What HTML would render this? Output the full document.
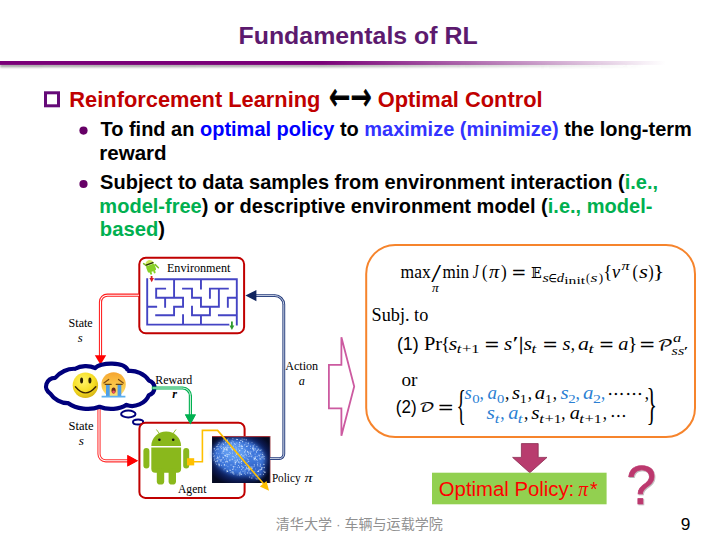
<!DOCTYPE html>
<html lang="zh">
<head>
<meta charset="utf-8">
<title>Fundamentals of RL</title>
<style>
html,body{margin:0;padding:0;background:#fff;}
body{width:716px;height:537px;overflow:hidden;font-family:"Liberation Sans","Noto Sans CJK SC",sans-serif;}
svg{display:block;position:absolute;left:0;top:0;}
text{white-space:pre;}
</style>
</head>
<body>
<svg width="716" height="537" viewBox="0 0 716 537">
<defs>
<linearGradient id="gl" x1="0" y1="0" x2="716" y2="0" gradientUnits="userSpaceOnUse">
<stop offset="0" stop-color="#7a0078"/><stop offset="0.45" stop-color="#7a0078"/><stop offset="0.93" stop-color="#7a0078" stop-opacity="0"/>
</linearGradient>
<linearGradient id="gs" x1="0" y1="0" x2="716" y2="0" gradientUnits="userSpaceOnUse">
<stop offset="0" stop-color="#555" stop-opacity=".55"/><stop offset="0.45" stop-color="#555" stop-opacity=".5"/><stop offset="0.9" stop-color="#555" stop-opacity="0"/>
</linearGradient>
<filter id="bl" x="-5%" y="-200%" width="110%" height="500%"><feGaussianBlur stdDeviation="0.9"/></filter>
<radialGradient id="sm" cx="0.42" cy="0.35" r="0.7"><stop offset="0" stop-color="#fff468"/><stop offset="0.6" stop-color="#f6de24"/><stop offset="1" stop-color="#d2ae12"/></radialGradient>
<linearGradient id="cr" x1="0" y1="0" x2="0" y2="1"><stop offset="0" stop-color="#f6a531"/><stop offset="0.55" stop-color="#fbc94a"/><stop offset="1" stop-color="#fde27a"/></linearGradient>
<radialGradient id="br" cx="0.48" cy="0.47" r="0.6"><stop offset="0" stop-color="#2a5cc0"/><stop offset="0.55" stop-color="#173a90"/><stop offset="0.85" stop-color="#0a1648"/><stop offset="1" stop-color="#050a22"/></radialGradient>
<filter id="bb" x="-20%" y="-20%" width="140%" height="140%"><feGaussianBlur stdDeviation="2.2"/></filter>
<filter id="qs" x="-20%" y="-20%" width="150%" height="150%"><feDropShadow dx="0.8" dy="1" stdDeviation="0.7" flood-color="#000" flood-opacity="0.3"/></filter>
</defs>

<!-- title rule -->
<rect x="0" y="64" width="716" height="3.2" fill="url(#gs)" filter="url(#bl)"/>
<rect x="0" y="61" width="716" height="3.9" fill="url(#gl)"/>

<!-- heading bullet square -->
<rect x="45.5" y="92.8" width="13" height="13" fill="none" stroke="#650a78" stroke-width="3"/>

<!-- ===== diagram ===== -->
<!-- environment box -->
<rect x="139.3" y="257.7" width="104.8" height="75.6" rx="6.5" ry="6.5" fill="#fff" stroke="#c00000" stroke-width="2"/>
<path d="M155.4 279.2L236.8 279.2M147.2 279.2L147.2 324.6M236.8 279.2L236.8 324.6M147.2 324.6L228.34 324.6M147.2 306.8L156.16 306.8M156.16 288.6L156.16 297.8M156.16 288.6L165.12 288.6M156.16 297.8L183.04 297.8M174.08 279.2L174.08 297.8M165.12 297.8L165.12 306.8M183.04 297.8L183.04 306.8M174.08 306.8L183.04 306.8M174.08 306.8L174.08 315.2M156.16 315.2L174.08 315.2M183.04 315.2L183.04 324.6M183.04 288.6L192.0 288.6M192.0 288.6L192.0 297.8M192.0 297.8L200.96 297.8M200.96 297.8L200.96 306.8M200.96 306.8L218.88 306.8M218.88 288.6L218.88 306.8M209.92 288.6L227.84 288.6M209.92 288.6L209.92 297.8M200.96 279.2L200.96 288.6M192.0 306.8L192.0 315.2M192.0 315.2L209.92 315.2M209.92 306.8L209.92 315.2M200.96 315.2L200.96 324.6M227.84 297.8L227.84 306.8M227.84 297.8L236.8 297.8M218.88 315.2L236.8 315.2" fill="none" stroke="#4444c4" stroke-width="1.9" stroke-linecap="square"/>
<!-- start / exit arrows of maze -->
<path d="M151.6 276v3" stroke="#d81c24" stroke-width="1.8"/><path d="M149.4 278h4.6l-2.3 4.2z" fill="#d81c24"/>
<path d="M231.9 321.4v5" stroke="#2e9a2e" stroke-width="1.8"/><path d="M229.5 325.6h4.8l-2.4 4.4z" fill="#2e9a2e"/>
<!-- small android with glasses -->
<path d="M147.4 266.4L143.6 263.6M155.2 264.6L158.4 267.8" stroke="#7cc022" stroke-width="1.5" stroke-linecap="round"/>
<g transform="translate(150.9 267.6) rotate(-20) scale(1.3)">
<path d="M-3.4 -2.4a3.4 3.6 0 0 1 6.8 0z" fill="#cfe65a"/>
<rect x="-3.4" y="-2.2" width="6.8" height="5.4" rx="1.2" fill="#86d026"/>
<rect x="-2.2" y="2.6" width="1.5" height="2.6" rx="0.7" fill="#86d026"/>
<rect x="0.7" y="2.6" width="1.5" height="2.6" rx="0.7" fill="#86d026"/>
<rect x="-3.3" y="-3.6" width="6.6" height="1.1" rx="0.5" fill="#26320c"/>
</g>

<!-- state arrow: env -> cloud (double red) -->
<path d="M139 295.2H107.3a6.8 6.8 0 0 0 -6.8 6.8V356" fill="none" stroke="#ff1e1e" stroke-width="3.2"/>
<path d="M139 295.2H107.3a6.8 6.8 0 0 0 -6.8 6.8V356" fill="none" stroke="#fff" stroke-width="1.1"/>
<path d="M94.8 355.2h11.4l-5.7 9.6z" fill="#ff0000"/>

<!-- cloud -->
<path d="M99 407V454a6.8 6.8 0 0 0 6.8 6.8H128" fill="none" stroke="#ff3030" stroke-width="3.2"/>
<path d="M99 407V454a6.8 6.8 0 0 0 6.8 6.8H128" fill="none" stroke="#fff" stroke-width="1.1"/>
<path d="M127.4 455.1l10.6 5.7l-10.6 5.6z" fill="#ff0000"/>
<path id="cloud" d="M50.1 393.4A9.6 8.6 0 0 1 55.3 377.8A19 14 -25 0 1 75.2 368.8A16 10 0 0 1 95.2 368C99 362.4 125.5 361 128.1 371A17 12 25 0 1 148.8 380.4A8.2 7.8 0 0 1 148.8 395.2A15 11.5 -25 0 1 126.5 404.8A20 11.5 0 0 1 99.5 406.8A22 12 5 0 1 68.3 403.2A16 11 30 0 1 50.1 393.4Z" fill="#fff" stroke="#00007c" stroke-width="4.2" stroke-linejoin="round"/>
<ellipse cx="128.3" cy="414" rx="7.2" ry="3.5" fill="#fff" stroke="#00007c" stroke-width="2"/>
<ellipse cx="138.1" cy="422" rx="5.1" ry="2.5" fill="#fff" stroke="#00007c" stroke-width="2"/>

<!-- emojis -->
<rect x="100.2" y="371.4" width="27" height="27" fill="#fff"/>
<circle cx="85.4" cy="385.2" r="12.7" fill="url(#sm)"/>
<ellipse cx="81.6" cy="380.4" rx="1.5" ry="3" fill="#2a2004"/>
<ellipse cx="89.9" cy="380.4" rx="1.5" ry="3" fill="#2a2004"/>
<path d="M75.4 386.8Q85.4 399 95.8 386.8" fill="none" stroke="#3a2404" stroke-width="1.4" stroke-linecap="round"/>
<circle cx="113.6" cy="384.5" r="12.2" fill="url(#cr)"/>
<path d="M103.9 383l4.8 -3.6M123.3 383l-4.8 -3.6" fill="none" stroke="#7a4a12" stroke-width="1.2" stroke-linecap="round"/>
<path d="M105.2 384.4h6M116.2 384.4h6" fill="none" stroke="#6a4410" stroke-width="1.1" stroke-linecap="round"/>
<path d="M106 385h3.7v11H106zM117.6 385h3.7v11h-3.7z" fill="#4e9ee6"/>
<path d="M101.6 395.7h23.8v1.9h-23.8z" fill="#5cb0f0"/>
<ellipse cx="113.6" cy="390.6" rx="2.1" ry="3" fill="#6a2a1a"/>
<ellipse cx="113.6" cy="392" rx="1.4" ry="1.4" fill="#f0506a"/>

<!-- reward arrow (double green) -->
<path d="M151.8 388H182.6a7.8 7.8 0 0 1 7.8 7.8V415" fill="none" stroke="#00b050" stroke-width="3.2"/>
<path d="M152.6 388H182.6a7.8 7.8 0 0 1 7.8 7.8V415" fill="none" stroke="#d8f5e4" stroke-width="1"/>
<path d="M184.9 414.4h11l-5.5 10.2z" fill="#00b050"/>

<!-- agent box -->
<rect x="139.4" y="422.7" width="105.2" height="75.2" rx="6" ry="6" fill="#fff" stroke="#c00000" stroke-width="2"/>
<path d="M184.9 414.4h11l-5.5 10.2z" fill="#00b050"/>
<path d="M127.4 455.1l10.6 5.7l-10.6 5.6z" fill="#ff0000"/>
<!-- android -->
<g fill="#8ab81c">
<path d="M151.3 446a14.9 14.4 0 0 1 29.8 0z"/>
<path d="M151.3 447.6h29.8v21.2a4 4 0 0 1 -4 4h-21.8a4 4 0 0 1 -4 -4z"/>
<rect x="143.4" y="448" width="6" height="20.4" rx="3"/>
<rect x="183.2" y="448" width="6" height="20.4" rx="3"/>
<rect x="156.8" y="468" width="7.4" height="16.6" rx="3.4"/>
<rect x="168.6" y="468" width="7.4" height="16.6" rx="3.4"/>
<path d="M156.6 429.8l3.4 4.6M175.8 429.8l-3.4 4.6" stroke="#8ab81c" stroke-width="0.9" stroke-linecap="round"/>
</g>
<circle cx="159.4" cy="439.8" r="1.3" fill="#111"/><circle cx="173.2" cy="439.8" r="1.3" fill="#111"/>

<!-- brain picture -->
<rect x="212.2" y="436.3" width="58" height="46.7" fill="#050a22"/>
<rect x="212.2" y="436.3" width="58" height="46.7" fill="url(#br)"/>
<g filter="url(#bb)">
<ellipse cx="239" cy="457" rx="26.5" ry="17.5" transform="rotate(12 239 457)" fill="#3f78dc"/>
<ellipse cx="255.5" cy="470.5" rx="9" ry="8" fill="#3468cc"/>
<ellipse cx="234" cy="452" rx="13" ry="9" transform="rotate(14 234 452)" fill="#5f9af0"/>
</g>
<path d="M212.2 436.6h58" stroke="#d23a3a" stroke-width="0.8" fill="none"/><path d="M270.3 436.3v46.7" stroke="#f0a0a0" stroke-width="0.7" fill="none"/>
<path d="M231.5 443.9h0M237.2 475.0h0M229.5 443.6h0M245.5 462.8h0M218.9 463.3h0M234.2 462.2h0M233.6 448.4h0M254.6 450.2h0M221.7 459.5h0M246.1 458.0h0M214.3 458.2h0M247.8 459.7h0M223.0 447.7h0M223.4 450.0h0M235.4 455.4h0M240.4 455.4h0M216.8 446.6h0M219.3 464.6h0M218.8 453.7h0M247.3 458.8h0M239.6 459.3h0M255.2 459.0h0M233.6 468.7h0M256.2 450.7h0M231.8 447.3h0M258.9 474.6h0M224.4 459.7h0M225.6 447.4h0M254.1 458.3h0M254.3 444.8h0M258.6 470.4h0M227.4 450.5h0M257.3 465.0h0M222.8 458.8h0M243.3 459.2h0M218.6 457.8h0M227.8 462.7h0M219.9 457.3h0M251.3 456.7h0M251.2 473.1h0M233.9 448.6h0M237.0 453.4h0M244.6 457.3h0M242.2 440.0h0M228.1 438.8h0M245.5 469.2h0M248.8 461.4h0M229.5 460.0h0M214.1 460.3h0M225.3 447.6h0M260.4 469.5h0M236.1 453.0h0M247.1 468.9h0M230.6 453.4h0M254.3 466.6h0M245.4 474.4h0M260.1 463.9h0M234.5 457.8h0M248.8 465.8h0M226.4 471.8h0M216.5 449.4h0M251.9 455.6h0M236.7 454.3h0M255.8 475.6h0M261.7 449.9h0M260.6 450.1h0M244.3 470.1h0M244.8 455.1h0M221.0 445.9h0M225.0 449.4h0M220.2 460.2h0M227.2 442.0h0M253.2 451.1h0M255.1 460.2h0M241.3 446.2h0M247.0 456.1h0M217.6 456.3h0M259.9 456.9h0M220.6 459.8h0M258.7 471.0h0M217.5 446.1h0M227.1 440.0h0M240.5 462.1h0M261.3 467.6h0M224.4 448.4h0M218.8 458.8h0M215.3 450.5h0M217.3 460.6h0M238.6 449.0h0M223.6 451.4h0M263.4 456.0h0M264.4 456.5h0M239.3 444.5h0M222.8 453.0h0M219.2 459.6h0M252.2 478.0h0M248.4 465.3h0M221.9 453.5h0M227.1 470.3h0M215.3 462.9h0M250.0 451.2h0M241.7 445.2h0M248.3 459.5h0M242.1 438.9h0M257.3 460.5h0M255.9 478.2h0M248.0 468.9h0M226.5 454.1h0M251.7 478.2h0M242.7 468.7h0M226.1 465.3h0M254.8 471.4h0M236.8 453.7h0M220.5 447.5h0M253.3 457.7h0M235.9 449.2h0M254.8 448.4h0M223.6 444.3h0M227.9 466.6h0M217.9 460.3h0M227.8 447.9h0M239.8 475.6h0M261.9 457.1h0M245.5 451.2h0M249.1 469.1h0M219.1 446.5h0M264.9 471.7h0M240.2 443.1h0M236.5 457.1h0M245.3 469.9h0M241.0 473.7h0M245.9 444.3h0M241.6 454.4h0M221.8 444.2h0M222.2 452.1h0M250.5 446.0h0M254.8 457.0h0M261.7 457.1h0M255.7 456.4h0M261.6 468.3h0M238.9 451.4h0M235.8 469.8h0M242.5 467.4h0M227.3 447.0h0M254.6 465.2h0M227.4 454.6h0M235.3 446.8h0M249.6 470.2h0M240.3 456.7h0M260.4 466.1h0M250.5 446.6h0M250.4 448.5h0M223.6 457.8h0M257.9 475.6h0M241.2 446.8h0M255.3 457.2h0M244.6 449.2h0M216.3 458.5h0M252.9 448.3h0M223.3 453.6h0M240.6 471.8h0M232.5 448.6h0M262.8 452.9h0M224.0 469.8h0M246.4 466.2h0M259.9 458.9h0M248.6 445.0h0M262.5 456.4h0M245.3 463.6h0M241.4 461.0h0M235.1 464.2h0M240.1 456.0h0M217.7 458.7h0M248.7 456.6h0M252.0 442.6h0M226.8 470.7h0M255.6 469.0h0M251.2 477.9h0M230.7 470.6h0M254.5 458.6h0M245.3 450.4h0M231.9 464.9h0M259.0 450.0h0M231.3 449.3h0" stroke="#dcecff" stroke-width="0.6" stroke-linecap="round" opacity="0.85" fill="none"/>
<path d="M217.1 461.7h0M225.2 441.0h0M245.2 465.5h0M251.8 456.7h0M230.1 459.8h0M219.7 456.2h0M244.8 473.3h0M232.4 453.1h0M253.0 466.8h0M229.2 454.7h0M227.1 455.0h0M228.8 443.3h0M236.7 453.5h0M217.0 446.6h0M221.5 448.6h0M252.7 449.0h0M260.9 459.1h0M257.6 471.5h0M263.7 457.0h0M236.9 443.0h0M256.3 479.0h0M247.5 446.2h0M238.8 461.5h0M237.6 460.7h0M234.9 460.8h0M228.4 443.0h0M261.4 468.1h0M262.2 457.9h0M227.9 445.3h0M242.3 448.3h0M237.6 459.8h0M237.6 439.5h0M262.6 467.8h0M239.2 444.2h0M213.2 453.8h0M232.1 440.9h0M246.4 455.1h0M257.7 464.4h0M254.1 459.7h0M243.0 471.3h0M227.4 440.4h0M241.2 454.6h0M224.3 464.6h0M227.5 471.2h0M248.4 443.1h0M252.5 468.1h0M253.4 450.1h0M239.2 474.7h0M255.6 449.0h0M253.1 447.6h0M235.5 444.3h0M227.4 440.0h0M233.6 456.7h0M231.0 472.6h0M263.4 474.4h0M248.1 443.4h0M244.4 444.9h0M232.6 450.7h0M236.2 448.0h0M223.0 462.6h0M241.4 463.4h0M234.9 466.7h0M253.0 475.9h0M248.7 461.3h0M226.0 456.5h0M232.3 456.3h0M226.2 447.2h0M223.7 447.3h0M223.5 457.7h0M250.9 454.4h0M245.0 471.9h0M214.7 455.9h0M226.3 458.9h0M227.3 456.8h0M247.6 452.1h0M241.4 469.6h0M222.9 443.1h0M257.4 450.5h0M245.3 454.2h0M223.7 440.0h0M232.9 438.7h0M221.1 446.4h0M259.7 455.8h0M214.8 459.8h0M218.2 444.5h0M236.4 450.0h0M233.7 446.1h0M230.9 465.0h0M251.1 451.9h0M247.2 462.3h0M237.3 467.3h0M238.5 465.5h0M260.7 474.3h0M219.1 442.9h0M216.7 453.1h0M221.2 460.1h0M223.4 444.4h0M227.4 461.6h0M255.1 454.1h0M233.5 472.2h0M229.9 460.7h0M246.4 467.5h0M221.5 465.3h0M233.2 441.9h0M243.4 456.0h0M249.4 477.1h0M215.5 461.5h0M223.0 451.2h0M255.5 458.4h0M232.1 471.5h0M216.7 464.2h0M243.4 467.6h0M260.0 466.1h0M229.8 452.5h0M214.2 448.8h0M245.7 450.2h0M257.9 465.9h0M263.8 471.3h0M249.8 453.0h0M238.7 462.5h0M222.7 457.2h0M246.0 442.8h0M254.2 464.7h0M241.5 466.1h0M214.3 448.8h0M227.3 456.5h0M239.0 446.4h0M242.2 466.4h0M242.7 455.9h0M225.0 468.5h0M213.8 456.3h0M228.1 447.3h0M233.1 466.4h0M250.0 472.9h0M228.2 454.3h0M240.4 474.1h0M233.4 467.1h0M250.6 453.7h0M239.7 462.9h0M260.9 454.2h0M248.6 452.6h0M256.9 446.7h0M260.1 450.5h0M236.0 460.2h0M250.3 473.4h0M235.7 462.5h0M244.1 439.3h0M257.8 462.9h0M257.1 456.4h0M225.4 442.6h0M248.8 469.6h0M233.7 466.7h0M240.2 472.8h0M260.4 464.7h0M227.0 454.8h0" stroke="#dcecff" stroke-width="0.9" stroke-linecap="round" opacity="0.85" fill="none"/>
<path d="M246.2 439.8h0M252.8 448.2h0M217.6 457.7h0M236.9 454.0h0M231.2 442.8h0M255.2 458.0h0M242.4 446.4h0M225.7 461.9h0M239.9 445.9h0M232.3 459.2h0M239.5 467.2h0M250.5 453.1h0M256.5 452.0h0M264.2 467.5h0M241.6 461.5h0M244.7 452.0h0M241.9 448.4h0M236.1 461.7h0M218.0 449.0h0M241.7 446.2h0M230.3 447.7h0M260.0 469.9h0M248.8 470.8h0M220.9 461.1h0M258.5 471.4h0M239.6 442.5h0M227.2 449.2h0M241.5 474.3h0M226.6 448.9h0M262.6 454.6h0M264.1 458.8h0M240.9 440.4h0M217.0 461.1h0M223.9 449.0h0M226.8 461.2h0M219.2 465.7h0M253.2 446.0h0M227.6 471.4h0M232.3 449.5h0M230.0 470.2h0M239.3 473.1h0M248.4 468.0h0M226.4 449.9h0M219.0 464.4h0M235.5 462.3h0M236.8 439.4h0M259.0 455.2h0M248.5 454.1h0M225.4 455.4h0M233.8 473.9h0M224.9 449.1h0M258.2 449.2h0M246.6 446.4h0M263.9 464.4h0M224.4 465.0h0M249.9 456.1h0M254.3 459.0h0M253.6 449.2h0M251.7 468.5h0M231.7 448.0h0M235.3 463.9h0M264.9 472.4h0M232.8 469.4h0M256.7 459.6h0M224.7 449.1h0M246.9 468.7h0M249.6 469.0h0M223.9 450.9h0M261.6 469.3h0M251.1 467.0h0M242.6 441.7h0M248.8 468.0h0M239.7 450.5h0M224.9 455.5h0M247.7 472.9h0M260.1 458.8h0M232.5 472.8h0M258.0 478.9h0M234.4 443.8h0M247.7 451.5h0M248.4 466.9h0" stroke="#dcecff" stroke-width="1.3" stroke-linecap="round" opacity="0.8" fill="none"/>

<!-- yellow policy line -->
<rect x="187" y="458.2" width="7.2" height="7.2" fill="#ffc000"/>
<path d="M194 461.7H202.4V430.4H217.6L264 484.2" fill="none" stroke="#ffc000" stroke-width="1.6" stroke-linejoin="miter"/>
<path d="M269 490.7L259.8 486.5L266.5 480.9z" fill="#ffc000"/>

<!-- action arrow (double navy) -->
<path d="M270 458.6H279.3a4.5 4.5 0 0 0 4.5 -4.5V304.6a9 9 0 0 0 -9 -9H256" fill="none" stroke="#22397a" stroke-width="2.8"/>
<path d="M270 458.6H279.3a4.5 4.5 0 0 0 4.5 -4.5V304.6a9 9 0 0 0 -9 -9H256" fill="none" stroke="#dfe6f4" stroke-width="0.9"/>
<path d="M245.4 295.6l11 -5.6v11.2z" fill="#10245e"/>

<!-- pink block arrow -->
<path d="M328.9 364.8H341.4V337.3L354.2 386.6L341.4 435.8V408.3H328.9Z" fill="none" stroke="#cc5aa0" stroke-width="1.8" stroke-linejoin="miter"/>

<!-- orange box -->
<rect x="366.2" y="244.9" width="328.8" height="192.1" rx="29" ry="29" fill="none" stroke="#f6842c" stroke-width="2"/>

<!-- down arrow -->
<path d="M521.4 443.6h16.8v13.8h8.8l-17.2 15.4l-17.2 -15.4h8.8z" fill="#b83c6e" stroke="#8a2c52" stroke-width="0.8"/>
<!-- green label -->
<rect x="432" y="472.7" width="174.6" height="31.6" fill="#92d050"/>

<text x="238.54" y="44.2" font-family="'Liberation Sans',sans-serif" font-size="24.6" font-weight="bold" fill="#5c1a6e" textLength="239.13" lengthAdjust="spacingAndGlyphs">Fundamentals of RL</text>
<text x="69.34" y="106.7" font-family="'Liberation Sans',sans-serif" font-size="21.6" font-weight="bold" fill="#c00000" textLength="251.12" lengthAdjust="spacingAndGlyphs">Reinforcement Learning</text>
<text x="377.71" y="106.7" font-family="'Liberation Sans',sans-serif" font-size="21.6" font-weight="bold" fill="#c00000" textLength="164.84" lengthAdjust="spacingAndGlyphs">Optimal Control</text>
<text stroke="#000" stroke-width="0.7" transform="translate(329.07 110.42) scale(1.053 1.598)" font-family="'DejaVu Sans',sans-serif" font-size="24" fill="#000">←</text>
<text stroke="#000" stroke-width="0.7" transform="translate(350.77 110.42) scale(1.042 1.598)" font-family="'DejaVu Sans',sans-serif" font-size="24" fill="#000">→</text>
<text x="100.48" y="135.6" font-family="'Liberation Sans',sans-serif" font-size="19.93" font-weight="bold" textLength="591.36" lengthAdjust="spacingAndGlyphs" xml:space="preserve"><tspan fill="#000">To find an </tspan><tspan fill="#0000ff">optimal policy</tspan><tspan fill="#000"> to </tspan><tspan fill="#3333ff">maximize (minimize)</tspan><tspan fill="#000"> the long-term</tspan></text>
<text x="99.35" y="159.7" font-family="'Liberation Sans',sans-serif" font-size="19.93" font-weight="bold" textLength="67.31" lengthAdjust="spacingAndGlyphs" xml:space="preserve"><tspan fill="#000">reward</tspan></text>
<text x="100.12" y="189.2" font-family="'Liberation Sans',sans-serif" font-size="19.93" font-weight="bold" textLength="557.91" lengthAdjust="spacingAndGlyphs" xml:space="preserve"><tspan fill="#000">Subject to data samples from environment interaction (</tspan><tspan fill="#00b050">i.e.,</tspan></text>
<text x="99.38" y="213.0" font-family="'Liberation Sans',sans-serif" font-size="19.93" font-weight="bold" textLength="553.02" lengthAdjust="spacingAndGlyphs" xml:space="preserve"><tspan fill="#00b050">model-free</tspan><tspan fill="#000">) or descriptive environment model (</tspan><tspan fill="#00b050">i.e., model-</tspan></text>
<text x="99.87" y="236.2" font-family="'Liberation Sans',sans-serif" font-size="19.93" font-weight="bold" textLength="65.14" lengthAdjust="spacingAndGlyphs" xml:space="preserve"><tspan fill="#00b050">based</tspan><tspan fill="#000">)</tspan></text>
<circle cx="83.5" cy="130.6" r="4.1" fill="#660066"/>
<circle cx="83.5" cy="184.0" r="4.1" fill="#660066"/>
<text x="166.95" y="272.0" font-family="'Liberation Serif',serif" font-size="12.2" fill="#000" textLength="63.42" lengthAdjust="spacingAndGlyphs">Environment</text>
<text x="68.59" y="326.7" font-family="'Liberation Serif',serif" font-size="12.2" fill="#000" textLength="24.13" lengthAdjust="spacingAndGlyphs">State</text>
<text x="77.85" y="341.6" font-family="'Liberation Serif',serif" font-size="12.2" font-style="italic" fill="#000" textLength="4.94" lengthAdjust="spacingAndGlyphs">s</text>
<text x="68.56" y="429.8" font-family="'Liberation Serif',serif" font-size="12.2" fill="#000" textLength="25.07" lengthAdjust="spacingAndGlyphs">State</text>
<text x="78.84" y="444.6" font-family="'Liberation Serif',serif" font-size="12.2" font-style="italic" fill="#000" textLength="5.16" lengthAdjust="spacingAndGlyphs">s</text>
<text x="155.26" y="383.7" font-family="'Liberation Serif',serif" font-size="12.2" fill="#000" textLength="37.09" lengthAdjust="spacingAndGlyphs">Reward</text>
<text x="172.15" y="397.6" font-family="'Liberation Serif',serif" font-size="12.2" font-style="italic" font-weight="bold" fill="#000">r</text>
<text x="285.18" y="369.8" font-family="'Liberation Serif',serif" font-size="12.2" fill="#000" textLength="33.00" lengthAdjust="spacingAndGlyphs">Action</text>
<text x="298.84" y="384.7" font-family="'Liberation Serif',serif" font-size="12.2" font-style="italic" fill="#000">a</text>
<text x="177.99" y="492.9" font-family="'Liberation Serif',serif" font-size="12.2" fill="#000" textLength="28.38" lengthAdjust="spacingAndGlyphs">Agent</text>
<text x="271.88" y="481.5" font-family="'Liberation Serif',serif" font-size="12.2" fill="#000" textLength="28.67" lengthAdjust="spacingAndGlyphs">Policy</text>
<text x="304.41" y="481.5" font-family="'Liberation Serif',serif" font-size="12.2" font-style="italic" fill="#000" textLength="8.02" lengthAdjust="spacingAndGlyphs">π</text>
<text x="400.53" y="277.6" font-family="'Liberation Serif',serif" font-size="18.2" fill="#000" textLength="30.18" lengthAdjust="spacingAndGlyphs">max</text>
<text transform="translate(431.20 282.46) scale(1.938 1.339)" font-family="'Liberation Serif',serif" font-size="18.2" fill="#000">/</text>
<text x="442.44" y="277.6" font-family="'Liberation Serif',serif" font-size="18.2" fill="#000" textLength="26.52" lengthAdjust="spacingAndGlyphs">min</text>
<text x="472.70" y="277.6" font-family="'Liberation Serif',serif" font-size="18.2" font-style="italic" fill="#000" textLength="5.79" lengthAdjust="spacingAndGlyphs">J</text>
<text x="482.08" y="277.6" font-family="'Liberation Serif',serif" font-size="18.2" fill="#000" textLength="5.45" lengthAdjust="spacingAndGlyphs">(</text>
<text x="489.09" y="277.6" font-family="'Liberation Serif',serif" font-size="18.2" font-style="italic" fill="#000" textLength="10.24" lengthAdjust="spacingAndGlyphs">π</text>
<text x="501.05" y="277.6" font-family="'Liberation Serif',serif" font-size="18.2" fill="#000" textLength="5.70" lengthAdjust="spacingAndGlyphs">)</text>
<text x="512.49" y="278.90000000000003" font-family="'Liberation Serif',serif" font-size="18.2" fill="#000" textLength="12.60" lengthAdjust="spacingAndGlyphs" stroke="#000" stroke-width="0.7">=</text>
<text stroke="#000" stroke-width="0.1" transform="translate(530.80 277.60) scale(0.753 0.837)" font-family="'DejaVu Math TeX Gyre','DejaVu Serif','DejaVu Sans',serif" font-size="18.2" fill="#000">𝔼</text>
<text x="542.40" y="282.3" font-family="'Liberation Serif',serif" font-size="13.2" font-style="italic" fill="#000" textLength="6.40" lengthAdjust="spacingAndGlyphs">s</text>
<text x="548.47" y="282.3" font-family="'DejaVu Math TeX Gyre','DejaVu Serif','DejaVu Sans',serif" font-size="13.2" fill="#000" textLength="8.36" lengthAdjust="spacingAndGlyphs">∈</text>
<text x="556.86" y="282.3" font-family="'Liberation Serif',serif" font-size="13.2" font-style="italic" fill="#000" textLength="7.31" lengthAdjust="spacingAndGlyphs">d</text>
<text x="564.27" y="284.4" font-family="'Liberation Serif',serif" font-size="11" fill="#000" textLength="20.82" lengthAdjust="spacingAndGlyphs">init</text>
<text x="586.09" y="282.3" font-family="'Liberation Serif',serif" font-size="13.2" fill="#000" textLength="3.89" lengthAdjust="spacingAndGlyphs">(</text>
<text x="590.58" y="282.3" font-family="'Liberation Serif',serif" font-size="13.2" font-style="italic" fill="#000" textLength="7.07" lengthAdjust="spacingAndGlyphs">s</text>
<text x="598.77" y="282.3" font-family="'Liberation Serif',serif" font-size="13.2" fill="#000" textLength="4.41" lengthAdjust="spacingAndGlyphs">)</text>
<text x="603.20" y="277.6" font-family="'Liberation Serif',serif" font-size="18.2" fill="#000" textLength="9.01" lengthAdjust="spacingAndGlyphs">{</text>
<text x="611.95" y="277.6" font-family="'Liberation Serif',serif" font-size="18.2" font-style="italic" fill="#000" textLength="8.15" lengthAdjust="spacingAndGlyphs">v</text>
<text x="621.51" y="270.2" font-family="'Liberation Serif',serif" font-size="13.2" font-style="italic" fill="#000" textLength="8.12" lengthAdjust="spacingAndGlyphs">π</text>
<text x="632.38" y="277.6" font-family="'Liberation Serif',serif" font-size="18.2" fill="#000" textLength="5.45" lengthAdjust="spacingAndGlyphs">(</text>
<text x="639.12" y="277.6" font-family="'Liberation Serif',serif" font-size="18.2" font-style="italic" fill="#000" textLength="8.98" lengthAdjust="spacingAndGlyphs">s</text>
<text x="648.27" y="277.6" font-family="'Liberation Serif',serif" font-size="18.2" fill="#000" textLength="5.45" lengthAdjust="spacingAndGlyphs">)</text>
<text x="652.78" y="277.6" font-family="'Liberation Serif',serif" font-size="18.2" fill="#000" textLength="11.74" lengthAdjust="spacingAndGlyphs">}</text>
<text x="431.93" y="292.3" font-family="'Liberation Serif',serif" font-size="13.2" font-style="italic" fill="#000" textLength="6.76" lengthAdjust="spacingAndGlyphs">π</text>
<text x="371.58" y="321.4" font-family="'Liberation Serif',serif" font-size="17.9" fill="#000" textLength="56.71" lengthAdjust="spacingAndGlyphs">Subj. to</text>
<text x="396.89" y="349.8" font-family="'Liberation Sans',sans-serif" font-size="18" fill="#000" textLength="21.92" lengthAdjust="spacingAndGlyphs">(1)</text>
<text x="424.01" y="349.8" font-family="'Liberation Serif',serif" font-size="18.2" fill="#000" textLength="18.17" lengthAdjust="spacingAndGlyphs">Pr</text>
<text x="440.90" y="349.8" font-family="'Liberation Serif',serif" font-size="18.2" fill="#000" textLength="9.01" lengthAdjust="spacingAndGlyphs">{</text>
<text x="448.73" y="349.8" font-family="'Liberation Serif',serif" font-size="18.2" font-style="italic" fill="#000" textLength="8.53" lengthAdjust="spacingAndGlyphs">s</text>
<text x="456.77" y="353.4" font-family="'Liberation Serif',serif" font-size="13.2" font-style="italic" fill="#000" textLength="4.60" lengthAdjust="spacingAndGlyphs">t</text>
<text x="462.07" y="353.4" font-family="'Liberation Serif',serif" font-size="13.2" fill="#000" textLength="9.45" lengthAdjust="spacingAndGlyphs">+</text>
<text x="471.35" y="353.4" font-family="'Liberation Serif',serif" font-size="13.2" fill="#000" textLength="8.24" lengthAdjust="spacingAndGlyphs">1</text>
<text x="485.23" y="351.1" font-family="'Liberation Serif',serif" font-size="18.2" fill="#000" textLength="13.21" lengthAdjust="spacingAndGlyphs" stroke="#000" stroke-width="0.7">=</text>
<text x="503.94" y="349.8" font-family="'Liberation Serif',serif" font-size="18.2" font-style="italic" fill="#000" textLength="8.19" lengthAdjust="spacingAndGlyphs">s</text>
<text x="512.60" y="349.8" font-family="'Liberation Serif',serif" font-size="18.2" fill="#000" textLength="6.19" lengthAdjust="spacingAndGlyphs">′</text>
<text x="519.23" y="349.8" font-family="'Liberation Serif',serif" font-size="18.2" fill="#000" stroke="#000" stroke-width="0.5">|</text>
<text x="523.74" y="349.8" font-family="'Liberation Serif',serif" font-size="18.2" font-style="italic" fill="#000" textLength="8.31" lengthAdjust="spacingAndGlyphs">s</text>
<text x="531.46" y="353.4" font-family="'Liberation Serif',serif" font-size="13.2" font-style="italic" fill="#000" textLength="4.71" lengthAdjust="spacingAndGlyphs">t</text>
<text x="543.53" y="351.1" font-family="'Liberation Serif',serif" font-size="18.2" fill="#000" textLength="13.21" lengthAdjust="spacingAndGlyphs" stroke="#000" stroke-width="0.7">=</text>
<text x="562.55" y="349.8" font-family="'Liberation Serif',serif" font-size="18.2" font-style="italic" fill="#000" textLength="7.97" lengthAdjust="spacingAndGlyphs">s</text>
<text x="570.86" y="349.8" font-family="'Liberation Serif',serif" font-size="18.2" fill="#000" textLength="4.20" lengthAdjust="spacingAndGlyphs">,</text>
<text x="578.05" y="349.8" font-family="'Liberation Serif',serif" font-size="18.2" font-style="italic" fill="#000" textLength="10.98" lengthAdjust="spacingAndGlyphs">a</text>
<text x="588.59" y="353.4" font-family="'Liberation Serif',serif" font-size="13.2" font-style="italic" fill="#000" textLength="5.14" lengthAdjust="spacingAndGlyphs">t</text>
<text x="600.05" y="351.1" font-family="'Liberation Serif',serif" font-size="18.2" fill="#000" textLength="12.97" lengthAdjust="spacingAndGlyphs" stroke="#000" stroke-width="0.7">=</text>
<text x="618.39" y="349.8" font-family="'Liberation Serif',serif" font-size="18.2" font-style="italic" fill="#000" textLength="10.17" lengthAdjust="spacingAndGlyphs">a</text>
<text x="627.87" y="349.8" font-family="'Liberation Serif',serif" font-size="18.2" fill="#000" textLength="9.65" lengthAdjust="spacingAndGlyphs">}</text>
<text x="640.38" y="351.1" font-family="'Liberation Serif',serif" font-size="18.2" fill="#000" textLength="13.82" lengthAdjust="spacingAndGlyphs" stroke="#000" stroke-width="0.7">=</text>
<text stroke="#000" stroke-width="0.25" transform="translate(657.30 349.99) scale(1.028 0.845)" font-family="'DejaVu Math TeX Gyre','DejaVu Serif','DejaVu Sans',serif" font-size="18.2" fill="#000">𝒫</text>
<text x="673.10" y="342" font-family="'Liberation Serif',serif" font-size="13.2" font-style="italic" fill="#000" textLength="8.32" lengthAdjust="spacingAndGlyphs">a</text>
<text x="671.60" y="355.3" font-family="'Liberation Serif',serif" font-size="13.2" font-style="italic" fill="#000" textLength="6.29" lengthAdjust="spacingAndGlyphs">s</text>
<text x="678.00" y="355.3" font-family="'Liberation Serif',serif" font-size="13.2" font-style="italic" fill="#000" textLength="6.29" lengthAdjust="spacingAndGlyphs">s</text>
<text x="683.77" y="355.3" font-family="'Liberation Serif',serif" font-size="13.2" fill="#000" textLength="4.55" lengthAdjust="spacingAndGlyphs">′</text>
<text x="401.47" y="385.8" font-family="'Liberation Serif',serif" font-size="17.9" fill="#000" textLength="16.00" lengthAdjust="spacingAndGlyphs">or</text>
<text x="395.84" y="413.1" font-family="'Liberation Sans',sans-serif" font-size="18" fill="#000" textLength="20.81" lengthAdjust="spacingAndGlyphs">(2)</text>
<text stroke="#000" stroke-width="0.25" transform="translate(419.04 411.75) scale(0.936 0.755)" font-family="'DejaVu Math TeX Gyre','DejaVu Serif','DejaVu Sans',serif" font-size="18.2" fill="#000">𝒟</text>
<text x="438.67" y="414.40000000000003" font-family="'Liberation Serif',serif" font-size="18.2" fill="#000" textLength="13.94" lengthAdjust="spacingAndGlyphs" stroke="#000" stroke-width="0.7">=</text>
<text x="464.57" y="398.8" font-family="'Liberation Serif',serif" font-size="18.2" font-style="italic" fill="#2b7fd3" textLength="7.30" lengthAdjust="spacingAndGlyphs">s</text>
<text x="472.23" y="402.7" font-family="'Liberation Serif',serif" font-size="12.6" fill="#2b7fd3" textLength="7.43" lengthAdjust="spacingAndGlyphs">0</text>
<text x="479.54" y="398.8" font-family="'Liberation Serif',serif" font-size="18.2" fill="#2b7fd3" textLength="4.36" lengthAdjust="spacingAndGlyphs">,</text>
<text x="487.64" y="398.8" font-family="'Liberation Serif',serif" font-size="18.2" font-style="italic" fill="#2b7fd3" textLength="9.48" lengthAdjust="spacingAndGlyphs">a</text>
<text x="497.14" y="402.7" font-family="'Liberation Serif',serif" font-size="12.6" fill="#2b7fd3" textLength="7.31" lengthAdjust="spacingAndGlyphs">0</text>
<text x="505.04" y="398.8" font-family="'Liberation Serif',serif" font-size="18.2" fill="#000" textLength="4.36" lengthAdjust="spacingAndGlyphs">,</text>
<text x="512.05" y="398.8" font-family="'Liberation Serif',serif" font-size="18.2" font-style="italic" fill="#000" textLength="8.08" lengthAdjust="spacingAndGlyphs">s</text>
<text x="519.93" y="402.7" font-family="'Liberation Serif',serif" font-size="12.6" fill="#000" textLength="6.68" lengthAdjust="spacingAndGlyphs">1</text>
<text x="527.66" y="398.8" font-family="'Liberation Serif',serif" font-size="18.2" fill="#000" textLength="4.20" lengthAdjust="spacingAndGlyphs">,</text>
<text x="534.78" y="398.8" font-family="'Liberation Serif',serif" font-size="18.2" font-style="italic" fill="#000" textLength="10.40" lengthAdjust="spacingAndGlyphs">a</text>
<text x="545.15" y="402.7" font-family="'Liberation Serif',serif" font-size="12.6" fill="#000" textLength="6.53" lengthAdjust="spacingAndGlyphs">1</text>
<text x="552.76" y="398.8" font-family="'Liberation Serif',serif" font-size="18.2" fill="#000" textLength="4.20" lengthAdjust="spacingAndGlyphs">,</text>
<text x="560.44" y="398.8" font-family="'Liberation Serif',serif" font-size="18.2" font-style="italic" fill="#2b7fd3" textLength="8.19" lengthAdjust="spacingAndGlyphs">s</text>
<text x="568.34" y="402.7" font-family="'Liberation Serif',serif" font-size="12.6" fill="#2b7fd3" textLength="7.48" lengthAdjust="spacingAndGlyphs">2</text>
<text x="575.54" y="398.8" font-family="'Liberation Serif',serif" font-size="18.2" fill="#2b7fd3" textLength="4.36" lengthAdjust="spacingAndGlyphs">,</text>
<text x="582.98" y="398.8" font-family="'Liberation Serif',serif" font-size="18.2" font-style="italic" fill="#2b7fd3" textLength="10.40" lengthAdjust="spacingAndGlyphs">a</text>
<text x="593.10" y="402.7" font-family="'Liberation Serif',serif" font-size="12.6" fill="#2b7fd3" textLength="7.98" lengthAdjust="spacingAndGlyphs">2</text>
<text x="601.06" y="398.8" font-family="'Liberation Serif',serif" font-size="18.2" fill="#2b7fd3" textLength="4.20" lengthAdjust="spacingAndGlyphs">,</text>
<text x="607.53" y="399.40000000000003" font-family="'DejaVu Math TeX Gyre','DejaVu Serif','DejaVu Sans',serif" font-size="18.2" fill="#000" textLength="16.74" lengthAdjust="spacingAndGlyphs">⋯</text>
<text x="625.50" y="399.40000000000003" font-family="'DejaVu Math TeX Gyre','DejaVu Serif','DejaVu Sans',serif" font-size="18.2" fill="#000" textLength="17.11" lengthAdjust="spacingAndGlyphs">⋯</text>
<text x="644.66" y="398.8" font-family="'Liberation Serif',serif" font-size="18.2" fill="#000" textLength="4.20" lengthAdjust="spacingAndGlyphs">,</text>
<text x="486.54" y="419.4" font-family="'Liberation Serif',serif" font-size="18.2" font-style="italic" fill="#2b7fd3" textLength="8.42" lengthAdjust="spacingAndGlyphs">s</text>
<text x="494.67" y="423.2" font-family="'Liberation Serif',serif" font-size="13.2" font-style="italic" fill="#2b7fd3" textLength="4.60" lengthAdjust="spacingAndGlyphs">t</text>
<text x="500.34" y="419.4" font-family="'Liberation Serif',serif" font-size="18.2" fill="#2b7fd3" textLength="4.36" lengthAdjust="spacingAndGlyphs">,</text>
<text x="508.39" y="419.4" font-family="'Liberation Serif',serif" font-size="18.2" font-style="italic" fill="#2b7fd3" textLength="10.17" lengthAdjust="spacingAndGlyphs">a</text>
<text x="517.84" y="423.2" font-family="'Liberation Serif',serif" font-size="13.2" font-style="italic" fill="#2b7fd3" textLength="4.81" lengthAdjust="spacingAndGlyphs">t</text>
<text x="523.94" y="419.4" font-family="'Liberation Serif',serif" font-size="18.2" fill="#000" textLength="4.36" lengthAdjust="spacingAndGlyphs">,</text>
<text x="531.24" y="419.4" font-family="'Liberation Serif',serif" font-size="18.2" font-style="italic" fill="#000" textLength="8.31" lengthAdjust="spacingAndGlyphs">s</text>
<text x="539.16" y="423.2" font-family="'Liberation Serif',serif" font-size="13.2" font-style="italic" fill="#000" textLength="4.71" lengthAdjust="spacingAndGlyphs">t</text>
<text x="544.57" y="423.2" font-family="'Liberation Serif',serif" font-size="13.2" fill="#000" textLength="9.45" lengthAdjust="spacingAndGlyphs">+</text>
<text x="553.85" y="423.2" font-family="'Liberation Serif',serif" font-size="13.2" fill="#000" textLength="7.67" lengthAdjust="spacingAndGlyphs">1</text>
<text x="561.26" y="419.4" font-family="'Liberation Serif',serif" font-size="18.2" fill="#000" textLength="4.20" lengthAdjust="spacingAndGlyphs">,</text>
<text x="569.69" y="419.4" font-family="'Liberation Serif',serif" font-size="18.2" font-style="italic" fill="#000" textLength="10.17" lengthAdjust="spacingAndGlyphs">a</text>
<text x="579.16" y="423.2" font-family="'Liberation Serif',serif" font-size="13.2" font-style="italic" fill="#000" textLength="4.71" lengthAdjust="spacingAndGlyphs">t</text>
<text x="584.57" y="423.2" font-family="'Liberation Serif',serif" font-size="13.2" fill="#000" textLength="9.45" lengthAdjust="spacingAndGlyphs">+</text>
<text x="593.80" y="423.2" font-family="'Liberation Serif',serif" font-size="13.2" fill="#000" textLength="7.95" lengthAdjust="spacingAndGlyphs">1</text>
<text x="602.76" y="419.4" font-family="'Liberation Serif',serif" font-size="18.2" fill="#000" textLength="4.20" lengthAdjust="spacingAndGlyphs">,</text>
<text x="610.17" y="420.5" font-family="'DejaVu Math TeX Gyre','DejaVu Serif','DejaVu Sans',serif" font-size="18.2" fill="#000" textLength="16.26" lengthAdjust="spacingAndGlyphs">⋯</text>
<text transform="translate(456.43 418.89) scale(0.972 2.133)" font-family="'Liberation Serif',serif" font-size="20" fill="#000">{</text>
<text transform="translate(646.42 418.81) scale(1.089 2.163)" font-family="'Liberation Serif',serif" font-size="20" fill="#000">}</text>
<text x="438.84" y="495.9" font-family="'Liberation Sans',sans-serif" font-size="19.9" fill="#ff0000" textLength="135.42" lengthAdjust="spacingAndGlyphs">Optimal Policy:</text>
<text x="578.29" y="495.9" font-family="'Liberation Serif',serif" font-size="20" font-style="italic" fill="#ff0000" textLength="9.85" lengthAdjust="spacingAndGlyphs">π</text>
<text x="590.08" y="495.9" font-family="'Liberation Sans',sans-serif" font-size="19.9" fill="#ff0000" textLength="7.62" lengthAdjust="spacingAndGlyphs">*</text>
<text x="626.42" y="504.4" font-family="'Liberation Sans',sans-serif" font-size="55" fill="#bc386e" textLength="29.55" lengthAdjust="spacingAndGlyphs" stroke="#bc386e" stroke-width="0.7" filter="url(#qs)">?</text>
<text x="680.89" y="530.2" font-family="'Liberation Sans',sans-serif" font-size="17" fill="#000" textLength="9.63" lengthAdjust="spacingAndGlyphs">9</text>
<text x="359.3" y="528.6" text-anchor="middle" font-family="'Liberation Sans','Noto Sans CJK SC',sans-serif" font-size="13.4" fill="#909090" textLength="167" lengthAdjust="spacingAndGlyphs">清华大学 · 车辆与运载学院</text>
</svg>
</body>
</html>
